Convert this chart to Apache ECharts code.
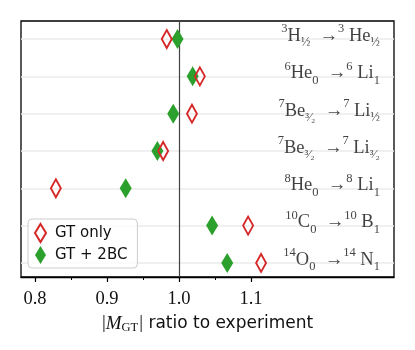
<!DOCTYPE html>
<html>
<head>
<meta charset="utf-8">
<script src="https://cdn.jsdelivr.net/npm/echarts@6/dist/echarts.min.js"></script>
<style>
  html, body { margin: 0; padding: 0; background: #fff; }
  #chart { width: 415px; height: 350px; }
</style>
</head>
<body>
<div id="chart"></div>
<script>
// transitions, top to bottom
var parentA = ['3', '6', '7', '7', '8', '10', '14']
var parentEl = ['H', 'He', 'Be', 'Be', 'He', 'C', 'O']
var parentJ = ['½', '0', '³⁄₂', '³⁄₂', '0', '0', '0']
var daughterEl = ['He', 'Li', 'Li', 'Li', 'Li', 'B', 'N']
var daughterJ = ['½', '1', '½', '³⁄₂', '1', '1', '1']

// |M_GT| ratio to experiment
var gtOnly = [0.983, 1.029, 1.018, 0.978, 0.829, 1.096, 1.114]
var gt2bc = [0.998, 1.019, 0.992, 0.970, 0.926, 1.046, 1.067]

var xTicks = [0.8, 0.9, 1.0, 1.1]
var xMinorTicks = [0.85, 0.95, 1.05]
var xMin = 0.7806
var xMax = 1.2986

var serif = 'Liberation Serif'
var sans = 'DejaVu Sans'

function rowLabel (i) {
  return '{sup|' + parentA[i] + '}{m|' + parentEl[i] + '}{sub|' + parentJ[i] + '}' +
    '{m|  →}{sup|' + parentA[i] + '}{m| ' + daughterEl[i] + '}{sub|' + daughterJ[i] + '}'
}

var chart = echarts.init(document.getElementById('chart'))
chart.setOption({
  animation: false,
  grid: {
    left: 21,
    right: 21,
    top: 21,
    bottom: 73,
    show: true,
    borderColor: '#000',
    borderWidth: 1.3,
    backgroundColor: 'transparent'
  },
  legend: {
    orient: 'vertical',
    left: 28,
    top: 219,
    z: 10,
    padding: [4, 10, 4, 6],
    itemGap: 3,
    itemWidth: 11,
    itemHeight: 18,
    borderColor: '#cccccc',
    borderWidth: 1,
    borderRadius: 4,
    backgroundColor: 'rgba(255,255,255,0.85)',
    textStyle: { fontFamily: sans, fontSize: 15, color: '#111', padding: [0, 0, 0, 4] },
    data: ['GT only', 'GT + 2BC']
  },
  xAxis: [
    {
      type: 'value',
      min: xMin,
      max: xMax,
      position: 'bottom',
      splitLine: { show: false },
      axisLine: { show: true, onZero: false, lineStyle: { color: '#000', width: 1.3 } },
      axisTick: { show: true, customValues: xTicks, length: 5, lineStyle: { color: '#000', width: 1.2 } },
      axisLabel: {
        customValues: xTicks,
        margin: 13,
        fontFamily: serif,
        fontSize: 18.5,
        color: '#111',
        formatter: function (v) { return v.toFixed(1) }
      },
      name: '{bar||}{it|M}{sub|GT}{bar||}{txt| ratio to experiment}',
      nameLocation: 'middle',
      nameGap: 36,
      nameTextStyle: {
        rich: {
          bar: { fontFamily: serif, fontSize: 19, color: '#111' },
          it: { fontFamily: serif, fontStyle: 'italic', fontSize: 19, color: '#111' },
          sub: { fontFamily: serif, fontSize: 12.5, color: '#111', verticalAlign: 'bottom', padding: [8, 1, 0, 0] },
          txt: { fontFamily: sans, fontSize: 17, color: '#111' }
        }
      }
    },
    {
      // minor ticks: sits on the top side, pulled down onto the bottom edge
      type: 'value',
      min: xMin,
      max: xMax,
      position: 'top',
      offset: -256,
      splitLine: { show: false },
      axisLine: { show: false, onZero: false },
      axisTick: { show: true, inside: true, customValues: xMinorTicks, length: 3, lineStyle: { color: '#000', width: 1 } },
      axisLabel: { show: false, customValues: xMinorTicks }
    }
  ],
  yAxis: {
    type: 'value',
    inverse: true,
    min: -0.484,
    max: 6.377,
    axisLine: { show: false, onZero: false },
    axisTick: { show: false },
    axisLabel: { show: false },
    splitLine: { show: false }
  },
  series: [
    {
      // row grid lines and the 1.0 reference line
      type: 'scatter',
      data: [],
      silent: true,
      z: 1,
      markLine: {
        silent: true,
        z: 1,
        symbol: 'none',
        label: { show: false },
        data: parentEl.map(function (_, i) {
          return { yAxis: i, lineStyle: { color: '#ebebeb', width: 1.6, type: 'solid' } }
        }).concat([{ xAxis: 1.0, lineStyle: { color: '#444', width: 1.2, type: 'solid' } }])
      }
    },
    {
      name: 'GT + 2BC',
      type: 'scatter',
      symbol: 'diamond',
      symbolSize: [12, 20],
      z: 3,
      itemStyle: { color: '#2ca02c', opacity: 1 },
      data: gt2bc.map(function (v, i) { return [v, i] })
    },
    {
      name: 'GT only',
      type: 'scatter',
      symbol: 'diamond',
      symbolSize: [10, 18],
      z: 4,
      itemStyle: { color: 'rgba(255,255,255,0)', borderColor: '#d62728', borderWidth: 2, opacity: 1 },
      data: gtOnly.map(function (v, i) { return [v, i] })
    },
    {
      // transition labels
      type: 'scatter',
      symbolSize: 0,
      silent: true,
      z: 5,
      data: parentEl.map(function (_, i) { return [1.279, i] }),
      label: {
        show: true,
        position: 'left',
        distance: 0,
        offset: [0, -3],
        formatter: function (p) { return rowLabel(p.dataIndex) },
        rich: {
          m: { fontFamily: serif, fontSize: 18.5, color: '#111', lineHeight: 27, verticalAlign: 'middle' },
          sup: { fontFamily: serif, fontSize: 12.5, color: '#111', verticalAlign: 'top', lineHeight: 27 },
          sub: { fontFamily: serif, fontSize: 12.5, color: '#111', verticalAlign: 'bottom', lineHeight: 27 }
        }
      }
    }
  ]
})
</script>
</body>
</html>
